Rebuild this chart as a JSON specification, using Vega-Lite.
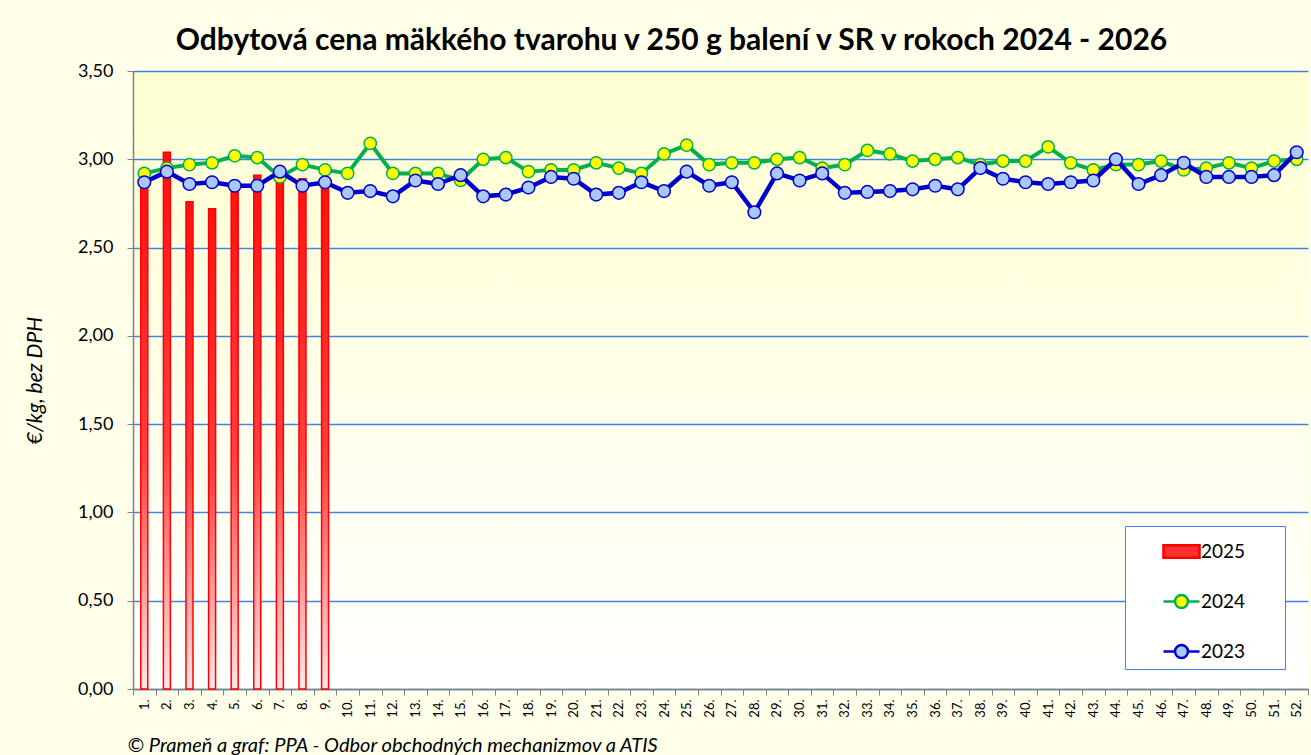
{
  "$schema": "https://vega.github.io/schema/vega-lite/v6.json",
  "autosize": {"type": "none"},
  "width": 1175,
  "height": 618,
  "padding": {"left": 133, "top": 71, "right": 3, "bottom": 66},
  "background": "#FFFFEA",
  "view": {
    "stroke": null,
    "fill": {"gradient": "linear", "x1": 0, "y1": 0, "x2": 0, "y2": 1,
      "stops": [{"offset": 0, "color": "#FFFFD2"}, {"offset": 1, "color": "#FFFFFF"}]}
  },
  "title": {
    "text": "Odbytová cena mäkkého tvarohu v 250 g balení v SR v rokoch 2024 - 2026",
    "font": "Lato", "fontSize": 30, "fontWeight": "bold", "color": "#000000",
    "anchor": "middle", "frame": "group", "dx": -49, "offset": 6
  },
  "data": {"values": [
    {"w": 1, "year": "2025", "price": 2.88}, {"w": 2, "year": "2025", "price": 3.04}, {"w": 3, "year": "2025", "price": 2.76},
    {"w": 4, "year": "2025", "price": 2.72}, {"w": 5, "year": "2025", "price": 2.86}, {"w": 6, "year": "2025", "price": 2.91},
    {"w": 7, "year": "2025", "price": 2.89}, {"w": 8, "year": "2025", "price": 2.89}, {"w": 9, "year": "2025", "price": 2.86},
    {"w": 1, "year": "2024", "price": 2.92}, {"w": 2, "year": "2024", "price": 2.95}, {"w": 3, "year": "2024", "price": 2.97},
    {"w": 4, "year": "2024", "price": 2.98}, {"w": 5, "year": "2024", "price": 3.02}, {"w": 6, "year": "2024", "price": 3.01},
    {"w": 7, "year": "2024", "price": 2.90}, {"w": 8, "year": "2024", "price": 2.97}, {"w": 9, "year": "2024", "price": 2.94},
    {"w": 10, "year": "2024", "price": 2.92}, {"w": 11, "year": "2024", "price": 3.09}, {"w": 12, "year": "2024", "price": 2.92},
    {"w": 13, "year": "2024", "price": 2.92}, {"w": 14, "year": "2024", "price": 2.92}, {"w": 15, "year": "2024", "price": 2.88},
    {"w": 16, "year": "2024", "price": 3.00}, {"w": 17, "year": "2024", "price": 3.01}, {"w": 18, "year": "2024", "price": 2.93},
    {"w": 19, "year": "2024", "price": 2.94}, {"w": 20, "year": "2024", "price": 2.94}, {"w": 21, "year": "2024", "price": 2.98},
    {"w": 22, "year": "2024", "price": 2.95}, {"w": 23, "year": "2024", "price": 2.92}, {"w": 24, "year": "2024", "price": 3.03},
    {"w": 25, "year": "2024", "price": 3.08}, {"w": 26, "year": "2024", "price": 2.97}, {"w": 27, "year": "2024", "price": 2.98},
    {"w": 28, "year": "2024", "price": 2.98}, {"w": 29, "year": "2024", "price": 3.00}, {"w": 30, "year": "2024", "price": 3.01},
    {"w": 31, "year": "2024", "price": 2.95}, {"w": 32, "year": "2024", "price": 2.97}, {"w": 33, "year": "2024", "price": 3.05},
    {"w": 34, "year": "2024", "price": 3.03}, {"w": 35, "year": "2024", "price": 2.99}, {"w": 36, "year": "2024", "price": 3.00},
    {"w": 37, "year": "2024", "price": 3.01}, {"w": 38, "year": "2024", "price": 2.97}, {"w": 39, "year": "2024", "price": 2.99},
    {"w": 40, "year": "2024", "price": 2.99}, {"w": 41, "year": "2024", "price": 3.07}, {"w": 42, "year": "2024", "price": 2.98},
    {"w": 43, "year": "2024", "price": 2.94}, {"w": 44, "year": "2024", "price": 2.97}, {"w": 45, "year": "2024", "price": 2.97},
    {"w": 46, "year": "2024", "price": 2.99}, {"w": 47, "year": "2024", "price": 2.94}, {"w": 48, "year": "2024", "price": 2.95},
    {"w": 49, "year": "2024", "price": 2.98}, {"w": 50, "year": "2024", "price": 2.95}, {"w": 51, "year": "2024", "price": 2.99},
    {"w": 52, "year": "2024", "price": 3.00},
    {"w": 1, "year": "2023", "price": 2.87}, {"w": 2, "year": "2023", "price": 2.93}, {"w": 3, "year": "2023", "price": 2.86},
    {"w": 4, "year": "2023", "price": 2.87}, {"w": 5, "year": "2023", "price": 2.85}, {"w": 6, "year": "2023", "price": 2.85},
    {"w": 7, "year": "2023", "price": 2.93}, {"w": 8, "year": "2023", "price": 2.85}, {"w": 9, "year": "2023", "price": 2.87},
    {"w": 10, "year": "2023", "price": 2.81}, {"w": 11, "year": "2023", "price": 2.82}, {"w": 12, "year": "2023", "price": 2.79},
    {"w": 13, "year": "2023", "price": 2.88}, {"w": 14, "year": "2023", "price": 2.86}, {"w": 15, "year": "2023", "price": 2.91},
    {"w": 16, "year": "2023", "price": 2.79}, {"w": 17, "year": "2023", "price": 2.80}, {"w": 18, "year": "2023", "price": 2.84},
    {"w": 19, "year": "2023", "price": 2.90}, {"w": 20, "year": "2023", "price": 2.89}, {"w": 21, "year": "2023", "price": 2.80},
    {"w": 22, "year": "2023", "price": 2.81}, {"w": 23, "year": "2023", "price": 2.87}, {"w": 24, "year": "2023", "price": 2.82},
    {"w": 25, "year": "2023", "price": 2.93}, {"w": 26, "year": "2023", "price": 2.85}, {"w": 27, "year": "2023", "price": 2.87},
    {"w": 28, "year": "2023", "price": 2.70}, {"w": 29, "year": "2023", "price": 2.92}, {"w": 30, "year": "2023", "price": 2.88},
    {"w": 31, "year": "2023", "price": 2.92}, {"w": 32, "year": "2023", "price": 2.81}, {"w": 33, "year": "2023", "price": 2.815},
    {"w": 34, "year": "2023", "price": 2.82}, {"w": 35, "year": "2023", "price": 2.83}, {"w": 36, "year": "2023", "price": 2.85},
    {"w": 37, "year": "2023", "price": 2.83}, {"w": 38, "year": "2023", "price": 2.95}, {"w": 39, "year": "2023", "price": 2.89},
    {"w": 40, "year": "2023", "price": 2.87}, {"w": 41, "year": "2023", "price": 2.86}, {"w": 42, "year": "2023", "price": 2.87},
    {"w": 43, "year": "2023", "price": 2.88}, {"w": 44, "year": "2023", "price": 3.00}, {"w": 45, "year": "2023", "price": 2.86},
    {"w": 46, "year": "2023", "price": 2.91}, {"w": 47, "year": "2023", "price": 2.98}, {"w": 48, "year": "2023", "price": 2.90},
    {"w": 49, "year": "2023", "price": 2.90}, {"w": 50, "year": "2023", "price": 2.90}, {"w": 51, "year": "2023", "price": 2.91},
    {"w": 52, "year": "2023", "price": 3.04}
  ]},
  "encoding": {
    "x": {
      "field": "w", "type": "ordinal",
      "scale": {"paddingInner": 0, "paddingOuter": 0},
      "axis": {
        "title": "© Prameň a graf: PPA - Odbor obchodných mechanizmov a ATIS",
        "titleFont": "Lato", "titleFontSize": 20, "titleFontStyle": "italic", "titleFontWeight": "normal",
        "titleColor": "#000000", "titleAnchor": "start", "titleAlign": "left", "titleBaseline": "alphabetic",
        "titleX": -6, "titleY": 62,
        "labelExpr": "datum.value == null ? '' : datum.value + '.'", "labelAngle": -90, "labelFont": "Lato", "labelFontSize": 13,
        "labelColor": "#000000", "labelPadding": 4,
        "tickBand": "extent", "tickColor": "#808080", "tickSize": 6, "domainColor": "#808080", "domainWidth": 1.5,
        "grid": false
      }
    },
    "y": {
      "field": "price", "type": "quantitative",
      "scale": {"domain": [0, 3.5], "nice": false, "zero": true},
      "axis": {
        "title": "€/kg, bez DPH", "titleFont": "Lato", "titleFontSize": 21, "titleFontStyle": "italic",
        "titleFontWeight": "normal", "titleColor": "#000000", "titlePadding": 32,
        "values": [0, 0.5, 1, 1.5, 2, 2.5, 3, 3.5],
        "labelExpr": "replace(format(datum.value, '.2f'), '.', ',')",
        "labelFont": "Lato", "labelFontSize": 18, "labelColor": "#000000", "labelPadding": 14,
        "tickColor": "#808080", "tickSize": 6, "domainColor": "#808080", "domainWidth": 1.5,
        "grid": true, "gridColor": "#3F84E5", "gridWidth": 1.3
      }
    },
    "stroke": {
      "field": "year", "type": "nominal",
      "scale": {"domain": ["2025", "2024", "2023"], "range": ["#FF0000", "#00B050", "#0000CC"]},
      "legend": {
        "title": null, "orient": "none", "legendX": 992, "legendY": 455,
        "fillColor": "#FFFFFF", "strokeColor": "#3F84E5", "padding": 6,
        "labelFont": "Lato", "labelFontSize": 19, "labelColor": "#000000",
        "symbolOffset": 31, "labelOffset": 0, "rowPadding": 19,
        "encode": {
          "symbols": {"update": {
            "shape": {"signal": "datum.value === '2025' ? 'M-1,-0.35H1V0.35H-1ZM5.1,0' : 'M-1,0H-0.36M0.36,0H1M-0.36,0A0.36,0.36 0 1,1 0.36,0A0.36,0.36 0 1,1 -0.36,0ZM5.1,0'"},
            "fill": {"signal": "datum.value === '2025' ? '#FF3030' : datum.value === '2024' ? '#FFFF00' : '#A8C8FF'"},
            "stroke": {"signal": "datum.value === '2025' ? '#FF0000' : datum.value === '2024' ? '#00B050' : '#0000CC'"},
            "strokeWidth": {"value": 2.5},
            "size": {"value": 1300},
            "opacity": {"value": 1}
          }}
        }
      }
    }
  },
  "layer": [
    {
      "transform": [{"filter": "datum.year === '2025'"}],
      "mark": {"type": "bar", "width": 7, "strokeWidth": 1.5,
        "fill": {"gradient": "linear", "x1": 0, "y1": 0, "x2": 0, "y2": 1,
          "stops": [{"offset": 0, "color": "#FF1010"}, {"offset": 0.55, "color": "#FF4040"}, {"offset": 1, "color": "#FFE6E6"}]}}
    },
    {
      "transform": [{"filter": "datum.year === '2024'"}],
      "mark": {"type": "line", "strokeWidth": 4}
    },
    {
      "transform": [{"filter": "datum.year === '2024'"}],
      "mark": {"type": "circle", "size": 150, "fill": "#FFFF00", "opacity": 1, "strokeWidth": 1.5}
    },
    {
      "transform": [{"filter": "datum.year === '2023'"}],
      "mark": {"type": "line", "strokeWidth": 4.5}
    },
    {
      "transform": [{"filter": "datum.year === '2023'"}],
      "mark": {"type": "circle", "size": 160, "fill": "#A8C8FF", "opacity": 1, "strokeWidth": 1.5}
    }
  ]
}
